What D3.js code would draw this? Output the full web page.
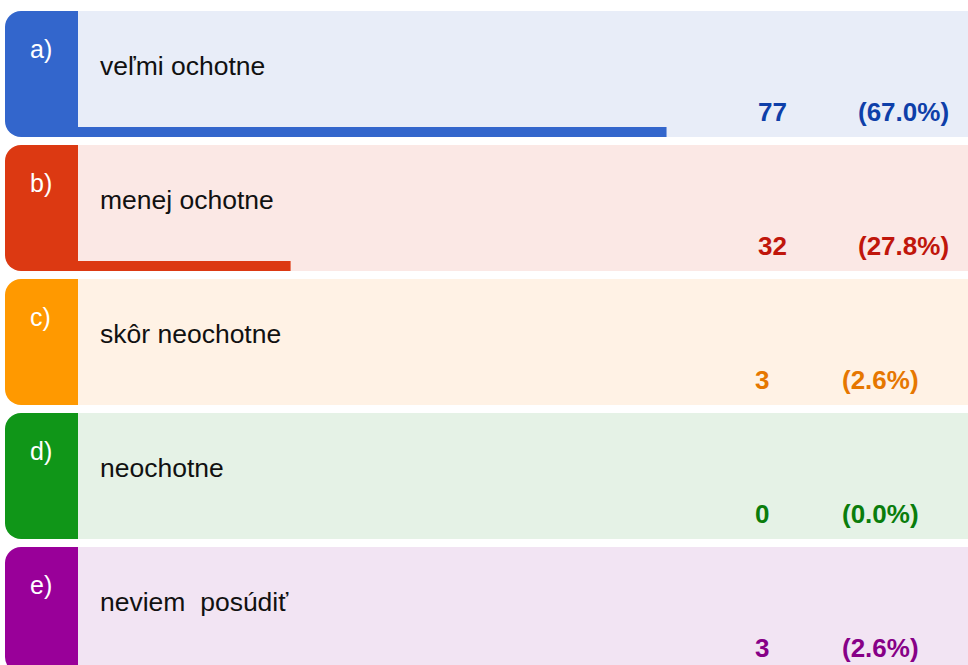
<!DOCTYPE html>
<head>
  <meta charset="utf-8">
  <script src="https://d3js.org/d3.v7.min.js"></script>
  <style>
    body { margin:0; background:#fff; }
    text { font-family: "Liberation Sans", Arial, sans-serif; }
  </style>
</head>
<body>
<script>
  var letters = ["a)", "b)", "c)", "d)", "e)"];
  var answers = ["veľmi ochotne", "menej ochotne", "skôr neochotne", "neochotne", "neviem  posúdiť"];
  var counts = [77, 32, 3, 0, 3];
  var percents = [67.0, 27.8, 2.6, 0.0, 2.6];

  var tabColors = ["#3366cc", "#dc3912", "#ff9900", "#109618", "#990099"];
  var bgColors = ["#e8edf8", "#fbe8e5", "#fff2e5", "#e5f2e6", "#f2e4f3"];
  var numColors = ["#0e3fa9", "#c0160b", "#e67700", "#0a7d0c", "#870087"];

  var width = 968, height = 665;
  var rowTop = 11, rowPitch = 134, rowH = 126, tabW = 73, left = 5, radius = 16;

  var svg = d3.select("body").append("svg")
    .attr("width", width)
    .attr("height", height);

  // percent -> x (bar starts behind the tab)
  var x = d3.scaleLinear().domain([0, 100]).range([24, 983]);
  var y = d3.scaleBand().domain(d3.range(letters.length))
    .range([rowTop, rowTop + rowPitch * letters.length]).paddingInner(0);

  var rows = svg.selectAll("g.row")
    .data(d3.range(letters.length))
    .enter().append("g")
    .attr("class", "row")
    .attr("transform", function(i) { return "translate(0," + y(i) + ")"; });

  // light background
  rows.append("rect")
    .attr("x", left + tabW)
    .attr("y", 0)
    .attr("width", width - left - tabW)
    .attr("height", rowH)
    .attr("fill", function(i) { return bgColors[i]; });

  // value bar along the bottom
  rows.append("rect")
    .attr("x", x(0))
    .attr("y", rowH - 10)
    .attr("width", function(i) { return x(percents[i]) - x(0); })
    .attr("height", 10)
    .attr("fill", function(i) { return tabColors[i]; });

  // coloured tab, rounded on the left
  rows.append("path")
    .attr("d", function() {
      var r = radius, w = tabW, h = rowH, x0 = left;
      return "M" + (x0 + r) + ",0H" + (x0 + w) + "V" + h + "H" + (x0 + r) +
        "A" + r + "," + r + " 0 0 1 " + x0 + "," + (h - r) +
        "V" + r + "A" + r + "," + r + " 0 0 1 " + (x0 + r) + ",0Z";
    })
    .attr("fill", function(i) { return tabColors[i]; });

  rows.append("text")
    .attr("x", 30)
    .attr("y", 47)
    .attr("fill", "#fff")
    .style("font-size", "25px")
    .text(function(i) { return letters[i]; });

  rows.append("text")
    .attr("x", 100)
    .attr("y", 64)
    .attr("fill", "#111")
    .style("font-size", "26.5px")
    .style("white-space", "pre")
    .attr("xml:space", "preserve")
    .text(function(i) { return answers[i]; });

  rows.append("text")
    .attr("x", function(i) { return counts[i] >= 10 ? 758 : 755; })
    .attr("y", 110)
    .attr("fill", function(i) { return numColors[i]; })
    .style("font-size", "26px")
    .style("font-weight", "bold")
    .text(function(i) { return counts[i]; });

  rows.append("text")
    .attr("x", function(i) { return percents[i] >= 10 ? 858 : 842; })
    .attr("y", 110)
    .attr("fill", function(i) { return numColors[i]; })
    .style("font-size", "26px")
    .style("font-weight", "bold")
    .text(function(i) { return "(" + percents[i].toFixed(1) + "%)"; });
</script>
</body>
